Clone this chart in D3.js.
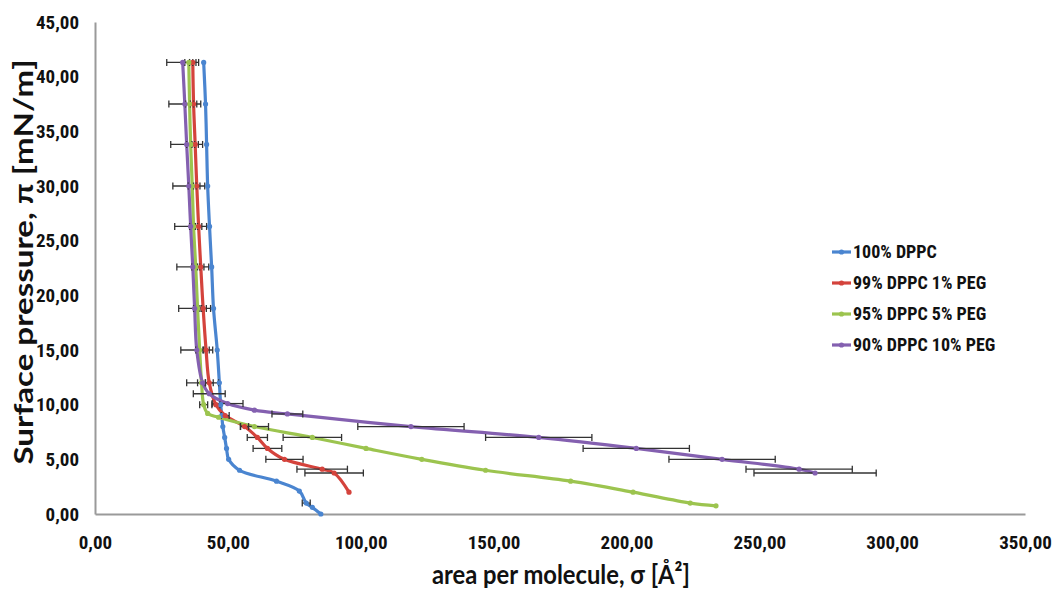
<!DOCTYPE html>
<html>
<head>
<meta charset="utf-8">
<script src="https://cdn.jsdelivr.net/npm/d3@7"></script>
<style>
  body { margin: 0; background: #fff; }
  text { font-family: "Liberation Sans Narrow", "Roboto Condensed", "Liberation Sans", sans-serif; }
  .title { font-family: Lato, "Open Sans", sans-serif; }
</style>
</head>
<body>
<div id="chart"></div>
<script>
// series names + colours
var seriesNames = ["100% DPPC", "99% DPPC 1% PEG", "95% DPPC 5% PEG", "90% DPPC 10% PEG"];
var seriesColors = ["#4a85d0", "#d4433c", "#9cc44f", "#8460b0"];

// 100% DPPC
var blueArea = [40.9, 41.6, 42.0, 42.4, 43.1, 43.9, 44.6, 46.0, 46.8, 47.3, 47.7, 48.1, 48.8, 49.5, 50.3, 54.4, 68.3, 76.9, 79.5, 81.8, 85.0];
var bluePi   = [41.3, 37.5, 33.8, 30.0, 26.3, 22.6, 18.8, 15.0, 12.0, 10.0, 9.0, 8.0, 7.0, 6.0, 5.0, 4.0, 3.0, 2.1, 1.0, 0.6, 0.0];
var blueErr  = [0, 0, 0, 0, 0, 0, 0, 0, 0, 0, 0, 0, 0, 0, 0, 0, 0, 0, 1.5, 0, 0];

// 99% DPPC 1% PEG
var redArea = [36.8, 37.1, 37.7, 38.3, 39.0, 39.8, 40.7, 41.8, 43.0, 45.5, 49.0, 56.3, 61.1, 64.9, 71.3, 85.5, 90.0, 95.6];
var redPi   = [41.3, 37.5, 33.8, 30.0, 26.3, 22.6, 18.8, 15.0, 12.0, 10.0, 9.0, 8.0, 7.0, 6.0, 5.0, 4.1, 3.75, 2.0];
var redErr  = [1.2, 1.2, 1.2, 1.2, 1.2, 1.2, 1.2, 1.2, 1.5, 1.5, 1.5, 1.5, 3.8, 5.4, 7.0, 9.5, 11.0, 0];

// 95% DPPC 5% PEG
var greenArea = [35.3, 35.6, 36.0, 36.6, 37.1, 37.9, 38.6, 39.4, 40.1, 40.9, 42.4, 46.5, 60.0, 81.8, 102.0, 123.0, 147.0, 179.0, 202.5, 224.0, 233.7];
var greenPi   = [41.3, 37.5, 33.8, 30.0, 26.3, 22.6, 18.8, 15.0, 12.0, 10.0, 9.2, 8.85, 8.0, 7.0, 6.0, 5.0, 4.0, 3.0, 2.0, 1.0, 0.75];
var greenErr  = [1.5, 1.5, 1.5, 1.5, 1.5, 1.5, 1.5, 1.5, 1.5, 1.5, 0, 0, 5.3, 11.0, 0, 0, 0, 0, 0, 0, 0];

// 90% DPPC 10% PEG
var purpleArea = [33.0, 33.8, 34.5, 35.3, 36.0, 36.8, 37.5, 38.3, 40.5, 43.0, 49.9, 60.0, 72.4, 118.9, 167.0, 203.7, 236.0, 265.0, 271.0];
var purplePi   = [41.3, 37.5, 33.8, 30.0, 26.3, 22.6, 18.8, 15.0, 12.0, 11.0, 10.1, 9.5, 9.15, 8.0, 7.0, 6.0, 5.0, 4.1, 3.75];
var purpleErr  = [6, 6, 6, 6, 6, 6, 6, 6, 6, 6, 5.8, 0, 5.8, 20, 20, 20, 20, 20, 23];

var xTicks = [0, 50, 100, 150, 200, 250, 300, 350];
var yTicks = [0, 5, 10, 15, 20, 25, 30, 35, 40, 45];

var seriesArea = [blueArea, redArea, greenArea, purpleArea];
var seriesPi = [bluePi, redPi, greenPi, purplePi];
var seriesErr = [blueErr, redErr, greenErr, purpleErr];

var series = seriesNames.map(function(name, i) {
  return {
    name: name,
    color: seriesColors[i],
    points: seriesArea[i].map(function(a, j) { return {x: a, y: seriesPi[i][j], e: seriesErr[i][j]}; })
  };
});

var W = 1058, H = 591;
var margin = {top: 22, right: 30, bottom: 77, left: 95},
    width = W - margin.left - margin.right,
    height = H - margin.top - margin.bottom;

var svg = d3.select("#chart").append("svg")
    .attr("width", W)
    .attr("height", H);

var g = svg.append("g")
    .attr("transform", "translate(" + margin.left + "," + margin.top + ")");

var x = d3.scaleLinear().domain([0, 350]).range([0, width - 3]);
var y = d3.scaleLinear().domain([0, 45]).range([height, 0]);

var fmt = function(d) { return d3.format(".2f")(d).replace(".", ","); };

// axes (no tick marks, grey line)
var xAxis = g.append("g")
  .attr("transform", "translate(0," + height + ")")
  .call(d3.axisBottom(x).tickValues(xTicks).tickFormat(fmt).tickSize(0).tickPadding(22));
var yAxis = g.append("g")
  .call(d3.axisLeft(y).tickValues(yTicks).tickFormat(fmt).tickSize(0).tickPadding(16));

[xAxis, yAxis].forEach(function(ax) {
  ax.select(".domain").attr("stroke", "#9a9a9a").attr("stroke-width", 2);
  ax.selectAll("text")
    .attr("fill", "#111")
    .style("font-size", "19px")
    .style("font-weight", "bold");
});

// lines
var line = d3.line()
  .x(function(d) { return x(d.x); })
  .y(function(d) { return y(d.y); })
  .curve(d3.curveCatmullRom.alpha(0.5));

g.selectAll(".series")
  .data(series)
  .enter()
  .append("path")
    .attr("d", function(d) { return line(d.points); })
    .attr("fill", "none")
    .attr("stroke", function(d) { return d.color; })
    .attr("stroke-width", 3.2)
    .attr("stroke-linejoin", "round");

// error bars (horizontal)
var bars = [];
series.forEach(function(s) {
  s.points.forEach(function(p) { if (p.e > 0) bars.push(p); });
});

var eb = g.selectAll(".err")
  .data(bars)
  .enter()
  .append("g")
    .attr("stroke", "#333")
    .attr("stroke-width", 1.3);
eb.append("line")
  .attr("x1", function(d) { return x(d.x - d.e); })
  .attr("x2", function(d) { return x(d.x + d.e); })
  .attr("y1", function(d) { return y(d.y); })
  .attr("y2", function(d) { return y(d.y); });
eb.append("line")
  .attr("x1", function(d) { return x(d.x - d.e); })
  .attr("x2", function(d) { return x(d.x - d.e); })
  .attr("y1", function(d) { return y(d.y) - 3.5; })
  .attr("y2", function(d) { return y(d.y) + 3.5; });
eb.append("line")
  .attr("x1", function(d) { return x(d.x + d.e); })
  .attr("x2", function(d) { return x(d.x + d.e); })
  .attr("y1", function(d) { return y(d.y) - 3.5; })
  .attr("y2", function(d) { return y(d.y) + 3.5; });

// markers
series.forEach(function(s) {
  g.selectAll(null)
    .data(s.points)
    .enter()
    .append("circle")
      .attr("cx", function(d) { return x(d.x); })
      .attr("cy", function(d) { return y(d.y); })
      .attr("r", 2.6)
      .attr("fill", s.color);
});

// axis titles
svg.append("text")
  .attr("class", "title")
  .attr("x", 561)
  .attr("y", 584)
  .attr("text-anchor", "middle")
  .attr("textLength", 258)
  .attr("lengthAdjust", "spacingAndGlyphs")
  .style("font-size", "27px")
  .style("font-weight", "bold")
  .attr("fill", "#111")
  .text("area per molecule, σ [Å²]");

svg.append("text")
  .attr("class", "title")
  .attr("transform", "translate(33,262)rotate(-90)")
  .attr("text-anchor", "middle")
  .attr("textLength", 405)
  .attr("lengthAdjust", "spacingAndGlyphs")
  .style("font-size", "27px")
  .style("font-weight", "bold")
  .attr("fill", "#111")
  .text("Surface pressure, π [mN/m]");

// legend
var legend = svg.append("g").attr("transform", "translate(832,252)");
var li = legend.selectAll("g")
  .data(series)
  .enter()
  .append("g")
    .attr("transform", function(d, i) { return "translate(0," + (i * 31) + ")"; });
li.append("line")
  .attr("x1", 0).attr("x2", 19)
  .attr("stroke", function(d) { return d.color; })
  .attr("stroke-width", 3.2);
li.append("circle")
  .attr("cx", 9.5).attr("r", 2.6)
  .attr("fill", function(d) { return d.color; });
li.append("text")
  .attr("x", 21)
  .attr("dy", "0.35em")
  .style("font-size", "18px")
  .style("font-weight", "bold")
  .attr("fill", "#111")
  .text(function(d) { return d.name; });
</script>
</body>
</html>
